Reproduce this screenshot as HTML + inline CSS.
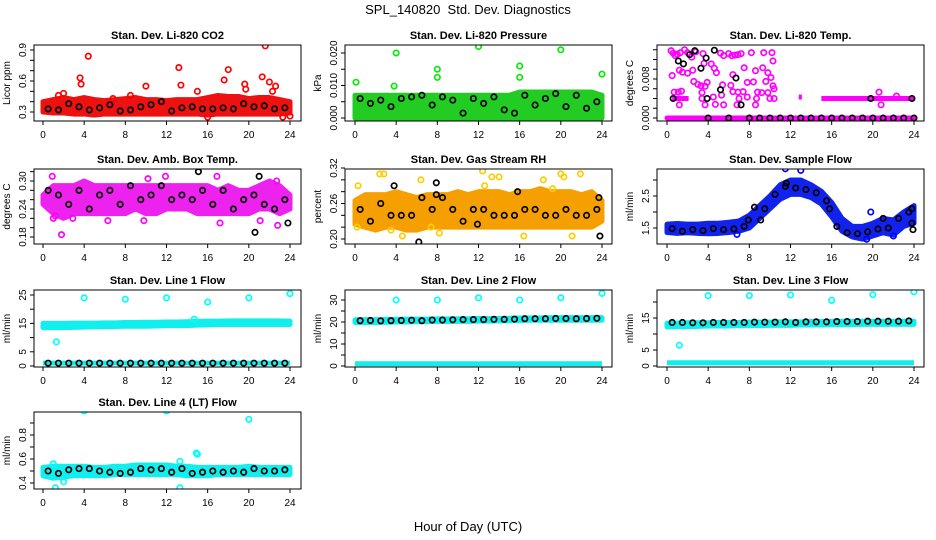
<!DOCTYPE html>
<html><head><meta charset="utf-8"><style>
html,body{margin:0;padding:0;background:#fff}
svg{display:block;font-family:"Liberation Sans",sans-serif}
</style></head><body>
<svg id="chart" width="936" height="540" viewBox="0 0 936 540">
<text x="468" y="14" text-anchor="middle" font-size="13" style="white-space:pre">SPL_140820  Std. Dev. Diagnostics</text>
<text x="468" y="531" text-anchor="middle" font-size="13">Hour of Day (UTC)</text>
</svg>
<script>
const bandHours=[0,1,2,3,4,5,6,7,8,9,10,11,12,13,14,15,16,17,18,19,20,21,22,23,24];
const meanHours=[0.5,1.5,2.5,3.5,4.5,5.5,6.5,7.5,8.5,9.5,10.5,11.5,12.5,13.5,14.5,15.5,16.5,17.5,18.5,19.5,20.5,21.5,22.5,23.5];
const xTicks=[0,4,8,12,16,20,24];

const co2Lo=[0.30,0.29,0.29,0.28,0.28,0.27,0.28,0.28,0.28,0.28,0.28,0.28,0.28,0.28,0.28,0.28,0.27,0.28,0.28,0.28,0.28,0.28,0.28,0.28,0.29];
const co2Hi=[0.40,0.42,0.44,0.42,0.44,0.42,0.41,0.42,0.43,0.44,0.42,0.42,0.41,0.42,0.42,0.42,0.44,0.46,0.45,0.45,0.43,0.44,0.44,0.42,0.40];
const co2Out=[[4.4,0.84],[3.6,0.63],[3.7,0.57],[10,0.55],[13.2,0.73],[13.4,0.56],[17.6,0.61],[18,0.71],[21.6,0.94],[21.3,0.64],[22,0.59],[22.3,0.5],[22.6,0.55],[19.6,0.57],[19.7,0.52],[15,0.5],[1.5,0.46],[2,0.48],[24,0.26],[16,0.25],[23.3,0.25],[6.8,0.43],[8.5,0.46]];
const co2Mean=[0.33,0.32,0.38,0.35,0.32,0.34,0.37,0.31,0.32,0.35,0.37,0.40,0.31,0.34,0.35,0.33,0.33,0.34,0.33,0.38,0.35,0.36,0.33,0.34];

const presLo=[0,0,0,0,0,0,0,0,0,0,0,0,0,0,0,0,0,0,0,0,0,0,0,0,0];
const presHi=[0.007,0.007,0.007,0.007,0.007,0.007,0.007,0.007,0.007,0.007,0.007,0.007,0.007,0.007,0.007,0.007,0.008,0.008,0.008,0.008,0.008,0.008,0.008,0.008,0.007];
const presOut=[[0.1,0.011],[4,0.020],[3.8,0.0098],[8,0.015],[8,0.0125],[12,0.022],[16,0.016],[16,0.0125],[20,0.021],[24,0.0135]];
const presMean=[0.006,0.0045,0.0055,0.0035,0.006,0.0065,0.007,0.004,0.0065,0.0055,0.0015,0.006,0.0045,0.0065,0.0025,0.0015,0.007,0.004,0.006,0.0075,0.0035,0.007,0.003,0.005];

const tempLo=[0,0,0,0,0,0,0,0,0,0,0,0,0,0,0,0,0,0,0,0,0,0,0,0,0];
const tempHi=[0,0,0,0,0,0,0,0,0,0,0,0,0,0,0,0,0,0,0,0,0,0,0,0,0];
const tempRows=[[0.5,2.1,0.004],[12.8,13.1,0.0043],[15,24,0.004]];
const tempOut=[[0.4,0.0138],[0.6,0.0133],[0.8,0.0128],[1.0,0.0131],[1.3,0.0134],[1.7,0.014],[1.5,0.0094],[1.2,0.0098],[0.5,0.0087],[0.7,0.0053],[1.1,0.0053],[1.4,0.0055],[1.2,0.0027],[2.0,0.0134],[2.4,0.0125],[2.8,0.0136],[2.5,0.0098],[2.0,0.0092],[2.6,0.0075],[3.0,0.0069],[3.5,0.0132],[3.6,0.0112],[3.3,0.0066],[3.9,0.0073],[3.7,0.0065],[3.4,0.0052],[3.4,0.004],[3.7,0.0027],[4.3,0.0111],[4.6,0.0102],[4.8,0.0093],[4.5,0.0043],[4.7,0.0028],[5.2,0.0133],[5.5,0.0128],[5.4,0.0068],[5.3,0.0047],[6.0,0.0132],[6.3,0.0128],[6.6,0.0129],[6.9,0.013],[6.4,0.0089],[6.2,0.0067],[6.4,0.0054],[6.9,0.0053],[7.0,0.004],[7.2,0.0132],[7.5,0.0103],[7.8,0.0073],[7.4,0.0054],[7.8,0.0043],[8.2,0.0134],[8.6,0.0097],[8.4,0.0074],[8.8,0.0053],[8.7,0.004],[8.6,0.0027],[9.4,0.0134],[9.3,0.0103],[9.6,0.0075],[9.8,0.0093],[9.2,0.0052],[9.8,0.0052],[10.2,0.0134],[10.3,0.0117],[10.1,0.0083],[10.3,0.0066],[10.4,0.006],[10.0,0.004],[10.4,0.004],[5.5,0.0027],[6.8,0.0027],[20.6,0.0053],[20.8,0.0027],[22.3,0.0045]];
const tempBlack=[[0.6,0.004],[1.1,0.0117],[1.6,0.0111],[2.2,0.013],[2.7,0.0138],[3.3,0.0102],[3.8,0.0123],[3.9,0.004],[4.6,0.0139],[5.2,0.0058],[6.7,0.0082],[7.2,0.0027],[19.8,0.004],[23.8,0.004],[4,0],[6,0],[8,0],[9,0],[10,0],[11,0],[12,0],[13,0],[14,0],[15,0],[16,0],[17,0],[18,0],[19,0],[20,0],[21,0],[22,0],[23,0],[24,0]];

const ambLo=[0.25,0.23,0.22,0.23,0.23,0.23,0.23,0.23,0.23,0.24,0.23,0.23,0.24,0.24,0.24,0.23,0.23,0.23,0.23,0.23,0.23,0.24,0.24,0.23,0.24];
const ambHi=[0.27,0.29,0.29,0.29,0.30,0.29,0.29,0.29,0.29,0.29,0.29,0.29,0.29,0.29,0.29,0.29,0.29,0.28,0.29,0.28,0.28,0.29,0.30,0.29,0.27];
const ambOut=[[0.9,0.31],[1.8,0.185],[1.0,0.22],[10.2,0.305],[11.9,0.31],[16.9,0.31],[17.2,0.21],[22.7,0.30],[22.8,0.205],[9.8,0.215],[6.3,0.215],[21.1,0.215],[2.9,0.22],[1.2,0.225]];
const ambMean=[0.28,0.27,0.25,0.28,0.24,0.27,0.28,0.25,0.29,0.26,0.27,0.29,0.26,0.27,0.26,0.28,0.25,0.28,0.24,0.26,0.27,0.25,0.24,0.26];
const ambBlack=[[15.1,0.32],[21,0.31],[20.6,0.19],[23.8,0.21]];

const rhLo=[0.225,0.22,0.215,0.22,0.22,0.215,0.215,0.22,0.22,0.22,0.22,0.22,0.22,0.22,0.22,0.22,0.22,0.22,0.22,0.22,0.22,0.22,0.22,0.22,0.23];
const rhHi=[0.265,0.275,0.275,0.275,0.28,0.275,0.27,0.275,0.275,0.275,0.28,0.275,0.28,0.28,0.28,0.275,0.28,0.28,0.285,0.28,0.28,0.28,0.275,0.28,0.265];
const rhOut=[[0.3,0.29],[0.2,0.22],[2.4,0.31],[2.8,0.31],[6.4,0.30],[12.4,0.315],[13.3,0.305],[14.0,0.305],[18.3,0.30],[20.0,0.31],[20.3,0.305],[21.9,0.31],[4.6,0.205],[8.2,0.21],[16.4,0.205],[21.1,0.205],[3.5,0.215],[7.4,0.22],[19.2,0.285],[12.6,0.29]];
const rhMean=[0.25,0.23,0.26,0.24,0.24,0.24,0.27,0.25,0.27,0.25,0.23,0.25,0.25,0.24,0.24,0.24,0.25,0.25,0.24,0.24,0.25,0.24,0.24,0.25];
const rhBlack=[[3.8,0.29],[6.2,0.195],[7.9,0.295],[7.9,0.275],[11.9,0.225],[15.8,0.28],[23.8,0.205],[23.7,0.27]];

const flowLo=[1.36,1.33,1.35,1.33,1.32,1.33,1.36,1.4,1.5,1.8,2.1,2.4,2.55,2.55,2.45,2.25,1.85,1.4,1.22,1.15,1.25,1.35,1.28,1.55,1.65];
const flowHi=[1.62,1.64,1.62,1.62,1.65,1.65,1.68,1.72,1.9,2.2,2.5,2.85,3.0,3.0,2.85,2.65,2.3,1.8,1.55,1.55,1.65,1.8,1.75,2.0,2.2];
const flowOut=[[11.5,3.35],[13.0,3.3],[19.8,2.0],[22.0,1.25],[19.4,1.15],[6.8,1.3]];
const flowMean=[1.48,1.4,1.45,1.42,1.48,1.45,1.47,1.55,2.15,2.1,2.55,2.8,2.75,2.7,2.6,2.35,1.55,1.35,1.32,1.38,1.47,1.5,1.8,2.0];
const flowBlack=[[7.9,1.75],[9.1,1.75],[11.6,2.9],[15.8,2.1],[21,1.8],[23.8,1.65],[23.9,1.45],[23.8,2.1]];

const l1Lo=[13.5,13.5,13.5,13.6,13.7,13.8,13.8,13.9,14,14,14,14.1,14.2,14.2,14.2,14.4,14.5,14.6,14.6,14.6,14.6,14.6,14.6,14.6,14.6];
const l1Hi=[15,15,15,15.1,15.1,15.1,15.2,15.2,15.3,15.3,15.4,15.4,15.5,15.5,15.6,15.7,15.8,15.8,15.9,15.9,15.9,15.9,15.9,15.9,15.8];
const l1Out=[[4,24],[8,23.5],[12,24],[16,22.5],[20,24],[24,25.5],[1.3,8.5],[14.7,16.5]];
const l1Mean=[1,1,1,1,1,1,1,1,1,1,1,1,1,1,1,1,1,1,1,1,1,1,1,1];

const l2Lo=[19.8,19.8,19.8,19.9,20,20,20.1,20.1,20.2,20.2,20.3,20.3,20.4,20.4,20.5,20.6,20.7,20.8,20.8,20.8,20.8,20.8,20.8,20.8,20.8];
const l2Hi=[21,21.1,21.1,21.2,21.2,21.3,21.3,21.3,21.4,21.4,21.5,21.5,21.6,21.6,21.6,21.7,21.8,21.9,21.9,22,22,22,22,22,22];
const l2Out=[[4,30],[8,30],[12,31],[16,30],[20,31],[24,33]];
const l2Mean=[20.6,20.7,20.5,20.6,20.7,20.8,20.6,20.9,20.9,21,21.1,21.1,21.1,21.2,21.2,21.3,21.5,21.5,21.5,21.6,21.6,21.5,21.6,21.7];

const l3Lo=[12.2,12.3,12.3,12.4,12.5,12.5,12.5,12.6,12.6,12.6,12.7,12.7,12.7,12.8,12.8,12.8,12.9,12.9,12.9,13,13,13,13,13,13];
const l3Hi=[13.4,13.4,13.5,13.5,13.5,13.6,13.6,13.6,13.7,13.7,13.7,13.8,13.8,13.8,13.9,13.9,13.9,14,14,14,14,14,14,14,14];
const l3Out=[[4,22],[8,22],[12,22.2],[16,20.5],[20,22.3],[24,23.2],[1.2,6.5]];
const l3Mean=[13.6,13.6,13.5,13.5,13.6,13.6,13.6,13.6,13.7,13.7,13.7,13.8,13.6,13.8,13.8,13.8,13.9,13.9,13.9,14,14,14,14,14.1];

const l4Lo=[0.46,0.44,0.45,0.46,0.46,0.46,0.46,0.47,0.47,0.47,0.47,0.47,0.47,0.47,0.46,0.46,0.46,0.47,0.47,0.47,0.47,0.47,0.47,0.47,0.47];
const l4Hi=[0.53,0.54,0.54,0.54,0.54,0.53,0.53,0.54,0.54,0.55,0.55,0.55,0.55,0.54,0.54,0.53,0.53,0.53,0.53,0.53,0.54,0.53,0.53,0.53,0.53];
const l4Out=[[4,1.0],[12,1.0],[20,0.93],[13.3,0.36],[1.2,0.36],[14.9,0.65],[15,0.64],[1,0.56],[13.3,0.58],[2,0.41]];
const l4Mean=[0.5,0.48,0.51,0.52,0.52,0.5,0.49,0.48,0.49,0.52,0.51,0.52,0.49,0.52,0.48,0.49,0.5,0.49,0.5,0.49,0.52,0.5,0.5,0.51];

const cols=[{x0:43,x24:290,L:34,R:301},{x0:355,x24:602,L:345,R:612},{x0:667,x24:914,L:657,R:924}];
const rows=[{T:45,B:121},{T:169,B:244},{T:290,B:367},{T:412,B:489}];
const panels=[
 {c:0,r:0,name:'co2',title:'Stan. Dev. Li-820 CO2',ylab:'Licor ppm',ref:[0.3,112,0.9,50],ticks:[0.3,0.4,0.5,0.6,0.7,0.8,0.9],labels:['0.3','0.6','0.9'],col:'#ff0000',band:'#ee1111',lo:co2Lo,hi:co2Hi,out:co2Out,mean:co2Mean,black:[]},
 {c:1,r:0,name:'pressure',title:'Stan. Dev. Li-820 Pressure',ylab:'kPa',ref:[0,118,0.02,53],ticks:[0,0.005,0.01,0.015,0.02],labels:['0.000','0.010','0.020'],col:'#00ee00',band:'#22cc22',lo:presLo,hi:presHi,out:presOut,mean:presMean,black:[]},
 {c:2,r:0,name:'temp',title:'Stan. Dev. Li-820 Temp.',ylab:'degrees C',ref:[0,118,0.008,79],ticks:[0,0.002,0.004,0.006,0.008,0.01,0.012,0.014],labels:['0.000','0.008'],col:'#ff00ff',band:'#ff00ff',lo:tempLo,hi:tempHi,out:tempOut,mean:[],black:tempBlack,rowsSeg:tempRows},
 {c:0,r:1,name:'amb-temp',title:'Stan. Dev. Amb. Box Temp.',ylab:'degrees C',ref:[0.18,237,0.30,181],ticks:[0.18,0.2,0.22,0.24,0.26,0.28,0.3,0.32],labels:['0.18','0.24','0.30'],col:'#ff00ff',band:'#ee22ee',lo:ambLo,hi:ambHi,out:ambOut,mean:ambMean,black:ambBlack},
 {c:1,r:1,name:'rh',title:'Stan. Dev. Gas Stream RH',ylab:'percent',ref:[0.20,239,0.32,168],ticks:[0.2,0.22,0.24,0.26,0.28,0.3,0.32],labels:['0.20','0.26','0.32'],col:'#ffcc00',band:'#f5a000',lo:rhLo,hi:rhHi,out:rhOut,mean:rhMean,black:rhBlack},
 {c:2,r:1,name:'sample-flow',title:'Stan. Dev. Sample Flow',ylab:'ml/min',ref:[1.5,228,2.5,196],ticks:[1.5,2,2.5,3],labels:['1.5','2.5'],col:'#0000ff',band:'#1122ee',lo:flowLo,hi:flowHi,out:flowOut,mean:flowMean,black:flowBlack},
 {c:0,r:2,name:'line1',title:'Stan. Dev. Line 1 Flow',ylab:'ml/min',ref:[0,366,25,295],ticks:[0,5,10,15,20,25],labels:['0','5','15','25'],col:'#00ffff',band:'#11eeee',lo:l1Lo,hi:l1Hi,out:l1Out,mean:l1Mean,black:[],zeroRow:1},
 {c:1,r:2,name:'line2',title:'Stan. Dev. Line 2 Flow',ylab:'ml/min',ref:[0,366,30,300],ticks:[0,5,10,15,20,25,30],labels:['0','10','20','30'],col:'#00ffff',band:'#11eeee',lo:l2Lo,hi:l2Hi,out:l2Out,mean:l2Mean,black:[],zeroRow:1},
 {c:2,r:2,name:'line3',title:'Stan. Dev. Line 3 Flow',ylab:'ml/min',ref:[0,366,15,318],ticks:[0,5,10,15,20],labels:['0','5','15'],col:'#00ffff',band:'#11eeee',lo:l3Lo,hi:l3Hi,out:l3Out,mean:l3Mean,black:[],zeroRow:1},
 {c:0,r:3,name:'line4',title:'Stan. Dev. Line 4 (LT) Flow',ylab:'ml/min',ref:[0.4,483,0.8,435],ticks:[0.4,0.5,0.6,0.7,0.8,0.9],labels:['0.4','0.6','0.8'],col:'#00ffff',band:'#11eeee',lo:l4Lo,hi:l4Hi,out:l4Out,mean:l4Mean,black:[]}
];
const svg=document.getElementById('chart');
const NS='http://www.w3.org/2000/svg';
function mk(tag,attrs,parent){const e=document.createElementNS(NS,tag);for(const k in attrs)e.setAttribute(k,attrs[k]);parent.appendChild(e);return e;}
function circ(g,x,y,stroke){return mk('circle',{cx:x,cy:y,r:2.7,fill:'none',stroke:stroke,'stroke-width':1.7},g);}
panels.forEach(p=>{
 const C=cols[p.c],Rw=rows[p.r];
 const sx=v=>C.x0+(C.x24-C.x0)*v/24;
 const sy=v=>p.ref[1]+(v-p.ref[0])*(p.ref[3]-p.ref[1])/(p.ref[2]-p.ref[0]);
 const g=mk('g',{},svg);
 
 
 const t=mk('text',{x:(C.L+C.R)/2,y:Rw.T-6,'text-anchor':'middle','font-size':11,'font-weight':'bold'},g);
 t.textContent=p.title;
 
 
 const ylab=mk('text',{x:0,y:0,transform:`translate(${C.L-24},${(Rw.T+Rw.B)/2}) rotate(-90)`,'text-anchor':'middle','font-size':10},g);
 ylab.textContent=p.ylab;
 
 
 const clipId='clip-'+p.name;
 const cp=mk('clipPath',{id:clipId},g);mk('rect',{x:C.L,y:Rw.T,width:C.R-C.L,height:Rw.B-Rw.T},cp);
 const d=mk('g',{'clip-path':`url(#${clipId})`},g);
 
 
 let pts=[];bandHours.forEach((h,i)=>pts.push(sx(h)+','+sy(p.hi[i])));
 for(let i=bandHours.length-1;i>=0;i--)pts.push(sx(bandHours[i])+','+sy(p.lo[i]));
 const band=mk('polygon',{points:pts.join(' '),fill:p.band,stroke:p.band,'stroke-width':5,'stroke-linejoin':'round'},d);
 
 
 if(p.zeroRow!==undefined){const l=mk('line',{x1:sx(0),x2:sx(24),y1:sy(p.zeroRow),y2:sy(p.zeroRow),stroke:p.band,'stroke-width':5},d);
  
  }
 (p.rowsSeg||[]).forEach(s=>{const l=mk('line',{x1:sx(s[0]),x2:sx(s[1]),y1:sy(s[2]),y2:sy(s[2]),stroke:p.band,'stroke-width':5},d);
  
  });
 p.out.forEach(o=>{const c=circ(d,sx(o[0]),sy(o[1]),p.col);
  
  });
 p.mean.forEach((v,i)=>{const c=circ(d,sx(meanHours[i]),sy(v),'#000');
  
  });
 p.black.forEach(o=>{const c=circ(d,sx(o[0]),sy(o[1]),'#000');
  
  });
 const box=mk('rect',{x:C.L,y:Rw.T,width:C.R-C.L,height:Rw.B-Rw.T,fill:'none',stroke:'#000','stroke-width':1},g);
 
 
 p.ticks.forEach(v=>{mk('line',{x1:C.L-4,x2:C.L,y1:sy(v),y2:sy(v),stroke:'#000'},g);});
 p.labels.forEach(lb=>{const v=parseFloat(lb);const tx=mk('text',{x:0,y:0,transform:`translate(${C.L-8},${sy(v)}) rotate(-90)`,'text-anchor':'middle','font-size':10},g);
  tx.textContent=lb;
  
  });
 xTicks.forEach(v=>{mk('line',{x1:sx(v),x2:sx(v),y1:Rw.B,y2:Rw.B+4,stroke:'#000'},g);
  const tx=mk('text',{x:sx(v),y:Rw.B+17,'text-anchor':'middle','font-size':10},g);
  tx.textContent=String(v);
  
  });
});
</script>
</body></html>
